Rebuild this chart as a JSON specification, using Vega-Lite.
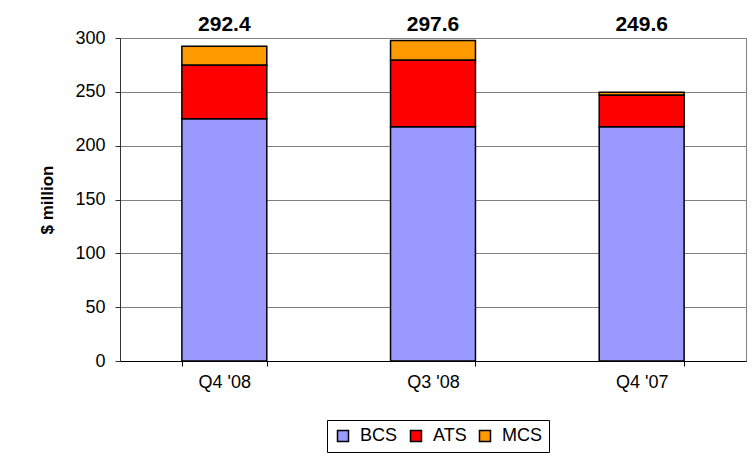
{
  "$schema": "https://vega.github.io/schema/vega-lite/v6.json",
  "width": 626,
  "height": 323,
  "autosize": {"type": "none"},
  "padding": {"left": 120, "top": 38, "right": 8, "bottom": 100},
  "background": "white",
  "config": {
    "font": "Liberation Sans",
    "view": {"stroke": "#808080", "strokeWidth": 1},
    "axis": {"labelFont": "Liberation Sans", "titleFont": "Liberation Sans", "labelColor": "black", "titleColor": "black"}
  },
  "layer": [
    {
      "data": {
        "values": [
          {"quarter": "Q4 '08", "segment": "BCS", "value": 225.0},
          {"quarter": "Q4 '08", "segment": "ATS", "value": 50.0},
          {"quarter": "Q4 '08", "segment": "MCS", "value": 17.4},
          {"quarter": "Q3 '08", "segment": "BCS", "value": 217.5},
          {"quarter": "Q3 '08", "segment": "ATS", "value": 62.0},
          {"quarter": "Q3 '08", "segment": "MCS", "value": 18.1},
          {"quarter": "Q4 '07", "segment": "BCS", "value": 217.5},
          {"quarter": "Q4 '07", "segment": "ATS", "value": 29.5},
          {"quarter": "Q4 '07", "segment": "MCS", "value": 2.6}
        ]
      },
      "transform": [{"calculate": "indexof(['BCS','ATS','MCS'], datum.segment)", "as": "rank"}],
      "mark": {"type": "bar", "stroke": "black", "strokeWidth": 1.5},
      "encoding": {
        "x": {
          "field": "quarter", "type": "nominal", "sort": ["Q4 '08", "Q3 '08", "Q4 '07"],
          "scale": {"paddingInner": 0.593, "paddingOuter": 0.2965},
          "axis": {"title": null, "labelAngle": 0, "labelFontSize": 18, "labelPadding": 7, "tickSize": 5, "tickBand": "extent", "tickColor": "black", "domainColor": "black", "labelBaseline": "top"}
        },
        "y": {
          "field": "value", "type": "quantitative", "stack": "zero",
          "scale": {"domain": [0, 300], "nice": false},
          "axis": {"title": "$ million", "titleFontSize": 17, "titleFontWeight": "bold", "titlePadding": 18, "values": [0, 50, 100, 150, 200, 250, 300], "labelFontSize": 18, "labelPadding": 10, "tickSize": 5, "tickColor": "#333333", "domainColor": "#333333", "gridColor": "#808080", "grid": true}
        },
        "color": {
          "field": "segment", "type": "nominal",
          "scale": {"domain": ["BCS", "ATS", "MCS"], "range": ["#9999FF", "#FF0000", "#FF9900"]},
          "legend": {
            "title": null, "orient": "none", "direction": "horizontal", "legendX": 207, "legendY": 382,
            "strokeColor": "black", "fillColor": "white", "padding": 7,
            "symbolType": "square", "symbolSize": 121, "symbolStrokeColor": "black", "symbolStrokeWidth": 1.5, "symbolOpacity": 1,
            "labelFontSize": 18, "labelFont": "Liberation Sans", "labelColor": "black", "labelOffset": 8, "columnPadding": 9
          }
        },
        "order": {"field": "rank", "type": "quantitative"}
      }
    },
    {
      "data": {
        "values": [
          {"quarter": "Q4 '08", "total": 292.4},
          {"quarter": "Q3 '08", "total": 297.6},
          {"quarter": "Q4 '07", "total": 249.6}
        ]
      },
      "mark": {"type": "text", "fontWeight": "bold", "fontSize": 21, "font": "Liberation Sans", "baseline": "alphabetic", "color": "black"},
      "encoding": {
        "x": {"field": "quarter", "type": "nominal", "sort": ["Q4 '08", "Q3 '08", "Q4 '07"]},
        "y": {"datum": 306.5},
        "text": {"field": "total", "type": "quantitative", "format": ".1f"}
      }
    }
  ]
}
